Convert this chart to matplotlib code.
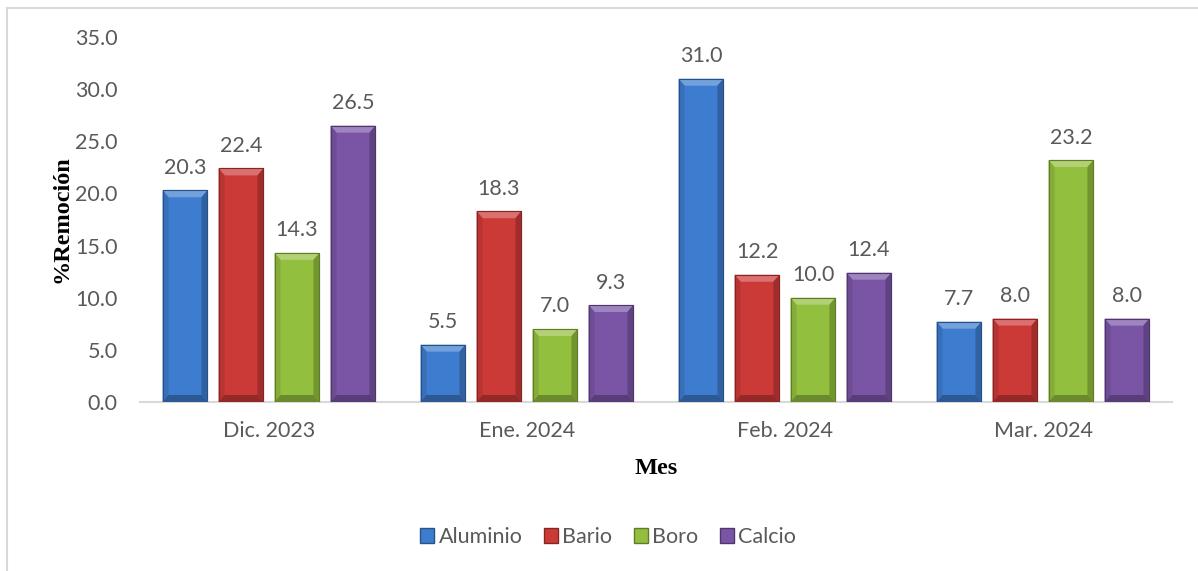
import numpy as np
import matplotlib.pyplot as plt
from matplotlib.patches import Polygon, Patch
from matplotlib.lines import Line2D

meses = ["Dic. 2023", "Ene. 2024", "Feb. 2024", "Mar. 2024"]
elementos = ["Aluminio", "Bario", "Boro", "Calcio"]
aluminio = [20.3, 5.5, 31.0, 7.7]
bario = [22.4, 18.3, 12.2, 8.0]
boro = [14.3, 7.0, 10.0, 23.2]
calcio = [26.5, 9.3, 12.4, 8.0]

colores = ["#3d7cce", "#cc3a38", "#93bf3e", "#7a55a6"]
gris = "#595959"
fs = 15.5

plt.rcParams['font.family'] = ['Lato', 'DejaVu Sans']


def tono(c, f):
    c = np.array(plt.matplotlib.colors.to_rgb(c))
    if f >= 0:
        return tuple(c + (1 - c) * f)
    return tuple(c * (1 + f))


fig = plt.figure(figsize=(11.98, 5.71), dpi=100)
ax = fig.add_axes([140 / 1198, 1 - 402 / 571, 1032 / 1198, 365 / 571])

x = np.arange(len(meses))
paso = 0.217
ancho = 0.174
series = [aluminio, bario, boro, calcio]

# pixel size of the bevel, turned into data units
bx = 6 / 258
by = 7 / (365 / 35)

for k, (vals, col) in enumerate(zip(series, colores)):
    pos = x + (k - 1.5) * paso
    barras = ax.bar(pos, vals, ancho, color=col, edgecolor=tono(col, -0.35),
                    linewidth=0.8, zorder=2)
    for b, v in zip(barras, vals):
        x0 = b.get_x()
        x1 = x0 + b.get_width()
        h = b.get_height()
        # bevel faces: top light, sides and bottom darker
        caras = [
            ([(x0, h), (x1, h), (x1 - bx, h - by), (x0 + bx, h - by)], tono(col, 0.28)),
            ([(x0, 0), (x0, h), (x0 + bx, h - by), (x0 + bx, by)], tono(col, -0.1)),
            ([(x1, 0), (x1, h), (x1 - bx, h - by), (x1 - bx, by)], tono(col, -0.22)),
            ([(x0, 0), (x1, 0), (x1 - bx, by), (x0 + bx, by)], tono(col, -0.28)),
        ]
        for pts, c in caras:
            ax.add_patch(Polygon(pts, closed=True, facecolor=c, edgecolor='none', zorder=3))
        ax.add_patch(plt.Rectangle((x0, 0), x1 - x0, h, fill=False,
                                   edgecolor=tono(col, -0.35), linewidth=0.8, zorder=4))
        ax.annotate(f"{v:.1f}", (b.get_x() + b.get_width() / 2, h),
                    xytext=(0, 9), textcoords='offset points',
                    ha='center', va='bottom', fontsize=fs, color=gris)

ax.set_xlim(-0.5, 3.5)
ax.set_ylim(0, 35)
ax.set_yticks(np.arange(0, 35.1, 5))
ax.set_yticklabels([f"{t:.1f}" for t in np.arange(0, 35.1, 5)])
ax.set_xticks(x)
ax.set_xticklabels(meses)
ax.tick_params(length=0, labelsize=fs, colors=gris)
ax.tick_params(axis='x', pad=14)
ax.tick_params(axis='y', pad=16)
for s in ['top', 'right', 'left']:
    ax.spines[s].set_visible(False)
ax.spines['bottom'].set_color('#d9d9d9')
ax.spines['bottom'].set_linewidth(1.5)
ax.spines['bottom'].set_zorder(1)

ax.set_ylabel("%Remoción", fontfamily='Liberation Serif', fontweight='bold',
              fontsize=17.5, color='black', va='center')
ax.yaxis.set_label_coords(-0.0756, 0.5)
ax.set_xlabel("Mes", fontfamily='Liberation Serif', fontweight='bold',
              fontsize=17.5, color='black', va='center')
ax.xaxis.set_label_coords(0.5, -0.181)

handles = [Patch(facecolor=c, edgecolor=tono(c, -0.35)) for c in colores]
fig.legend(handles, elementos, loc='center', bbox_to_anchor=(608 / 1198, 1 - 537 / 571),
           ncol=4, frameon=False, fontsize=fs, labelcolor=gris,
           handlelength=0.65, handleheight=0.65, handletextpad=0.2, columnspacing=1.0)

# outer chart frame
fig.add_artist(Line2D([7 / 1198, 7 / 1198], [0, 1 - 8 / 571], transform=fig.transFigure,
                      color='#d9d9d9', linewidth=1.5))
fig.add_artist(Line2D([7 / 1198, 1], [1 - 8 / 571, 1 - 8 / 571], transform=fig.transFigure,
                      color='#d9d9d9', linewidth=1.5))

fig.savefig("out.png", dpi=100)
